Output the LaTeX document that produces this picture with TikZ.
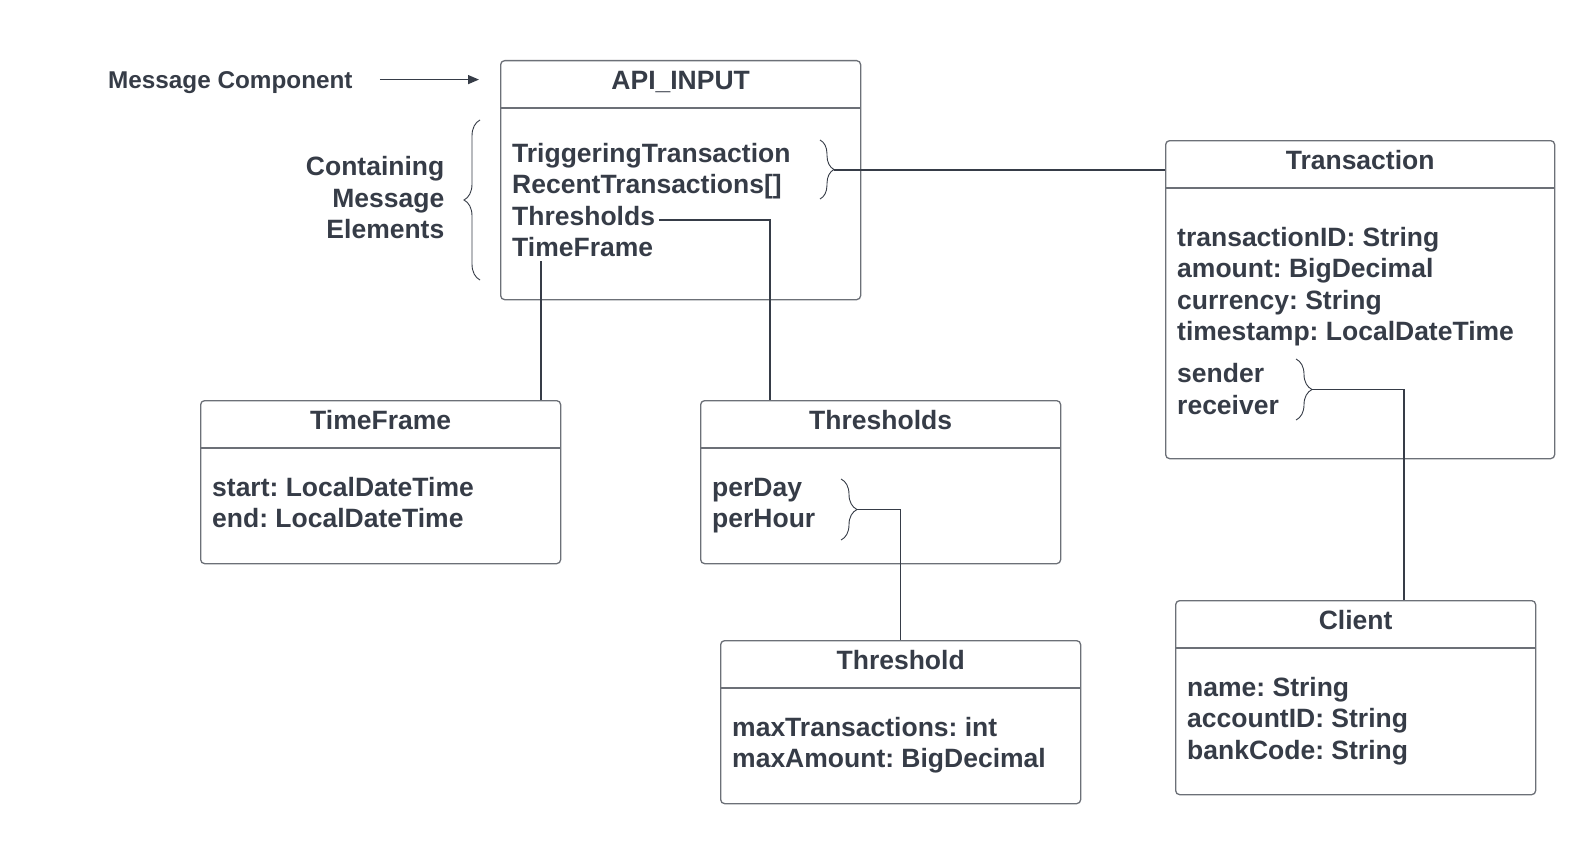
\documentclass[tikz,border=0pt]{standalone}
\usepackage{fontspec}
\setmainfont{Liberation Sans}
\usepackage{xcolor}
\usetikzlibrary{positioning,arrows.meta,decorations.pathreplacing}
\definecolor{ink}{HTML}{363C47}
\definecolor{edge}{HTML}{6C7077}
\newcommand\umlfont{\bfseries\fontsize{26.5}{31.5}\selectfont}
\frenchspacing

\begin{document}
\begin{tikzpicture}[x=1pt,y=-1pt,
        cls/.style={draw=edge,line width=1.3pt,rounded corners=4pt,
                    anchor=north west,inner sep=0pt},
        ttl/.style={font=\umlfont,text=ink,anchor=base,inner sep=0pt},
        fld/.style={font=\umlfont,text=ink,anchor=base west,inner sep=0pt},
        lnk/.style={draw=ink,line width=1.2pt},
        brc/.style={draw=ink,line width=0.9pt,decorate,
                    decoration={brace,amplitude=#1}}]
        \useasboundingbox (0,0) rectangle (1595,843);
        % class boxes
        \node[cls,minimum width=360pt,minimum height=239pt] (api) at (500,60) {};
        \node[cls,minimum width=389pt,minimum height=318pt] (trans) at (1165,140) {};
        \node[cls,minimum width=360pt,minimum height=163pt] (tf) at (200,400) {};
        \node[cls,minimum width=360pt,minimum height=163pt] (ths) at (700,400) {};
        \node[cls,minimum width=360pt,minimum height=163pt] (th) at (720,640) {};
        \node[cls,minimum width=360pt,minimum height=194pt] (cli) at (1175,600) {};
        \foreach \b/\t in {api/API\_INPUT,trans/Transaction,tf/TimeFrame,
                           ths/Thresholds,th/Threshold,cli/Client}{
          \node[ttl] (\b T) at ([yshift=-29.5pt]\b.north) {\t};
          \draw[draw=edge,line width=1.3pt] ([yshift=-48pt]\b.north west)
            -- ([yshift=-48pt]\b.north east);
        }
        % fields
        \foreach \k/\f in {1/TriggeringTransaction,2/RecentTransactions[],
                           3/Thresholds,4/TimeFrame}
          \node[fld] (api\k) at (512,130.5+\k*31.5) {\f};
        \foreach \y/\f [count=\k] in {246/transactionID: String,
            277.5/amount: BigDecimal,309/currency: String,
            340.5/timestamp: LocalDateTime,382/sender,414/receiver}
          \node[fld] (tr\k) at (1177,\y) {\f};
        \foreach \k/\f in {1/start: LocalDateTime,2/end: LocalDateTime}
          \node[fld] (tf\k) at (212,464.5+\k*31.5) {\f};
        \foreach \k/\f in {1/perDay,2/perHour}
          \node[fld] (ths\k) at (712,464.5+\k*31.5) {\f};
        \foreach \k/\f in {1/maxTransactions: int,2/maxAmount: BigDecimal}
          \node[fld] (th\k) at (732,704.5+\k*31.5) {\f};
        \foreach \k/\f in {1/name: String,2/accountID: String,3/bankCode: String}
          \node[fld] (cli\k) at (1187,664.5+\k*31.5) {\f};
        % side notes
        \node[font=\bfseries\fontsize{24.3}{28}\selectfont,text=ink,anchor=base west,
              inner sep=0pt] (mc) at (108,88.5) {Message Component};
        \foreach \k/\f in {1/Containing,2/Message,3/Elements}
          \node[fld,anchor=base east] (ce\k) at (444.5,144+\k*31.5) {\f};
        \draw[lnk,-{Triangle[length=11pt,width=9pt]},shorten <=27pt,shorten >=21pt]
          ([yshift=3pt]mc.east) -- ([yshift=3pt]mc.east -| api.west);
        \draw[brc=16pt] (480,280) -- (480,120);
        % braces and links
        \draw[brc=14pt] (820,140) -- (820,199);
        \draw[brc=16pt] (1296,359) -- (1296,420);
        \draw[brc=16pt] (841,479) -- (841,540);
        \coordinate (trtip) at (834,170);
        \coordinate (srtip) at (1312,389.5);
        \coordinate (pdtip) at (857,509.5);
        \coordinate (tfout) at (541,261);
        \coordinate (tftop) at (541,400);
        \coordinate (thstop) at (770,400);
        \coordinate (clitop) at (1404,600);
        \draw[lnk] (trtip) -- (trtip -| trans.west);
        \draw[lnk] ([shift={(4pt,5pt)}]api3.base east) -| (thstop);
        \draw[lnk] (tfout) -- (tftop);
        \draw[lnk] (pdtip) -| (th.north);
        \draw[lnk] (srtip) -| (clitop);
      \end{tikzpicture}
\end{document}
